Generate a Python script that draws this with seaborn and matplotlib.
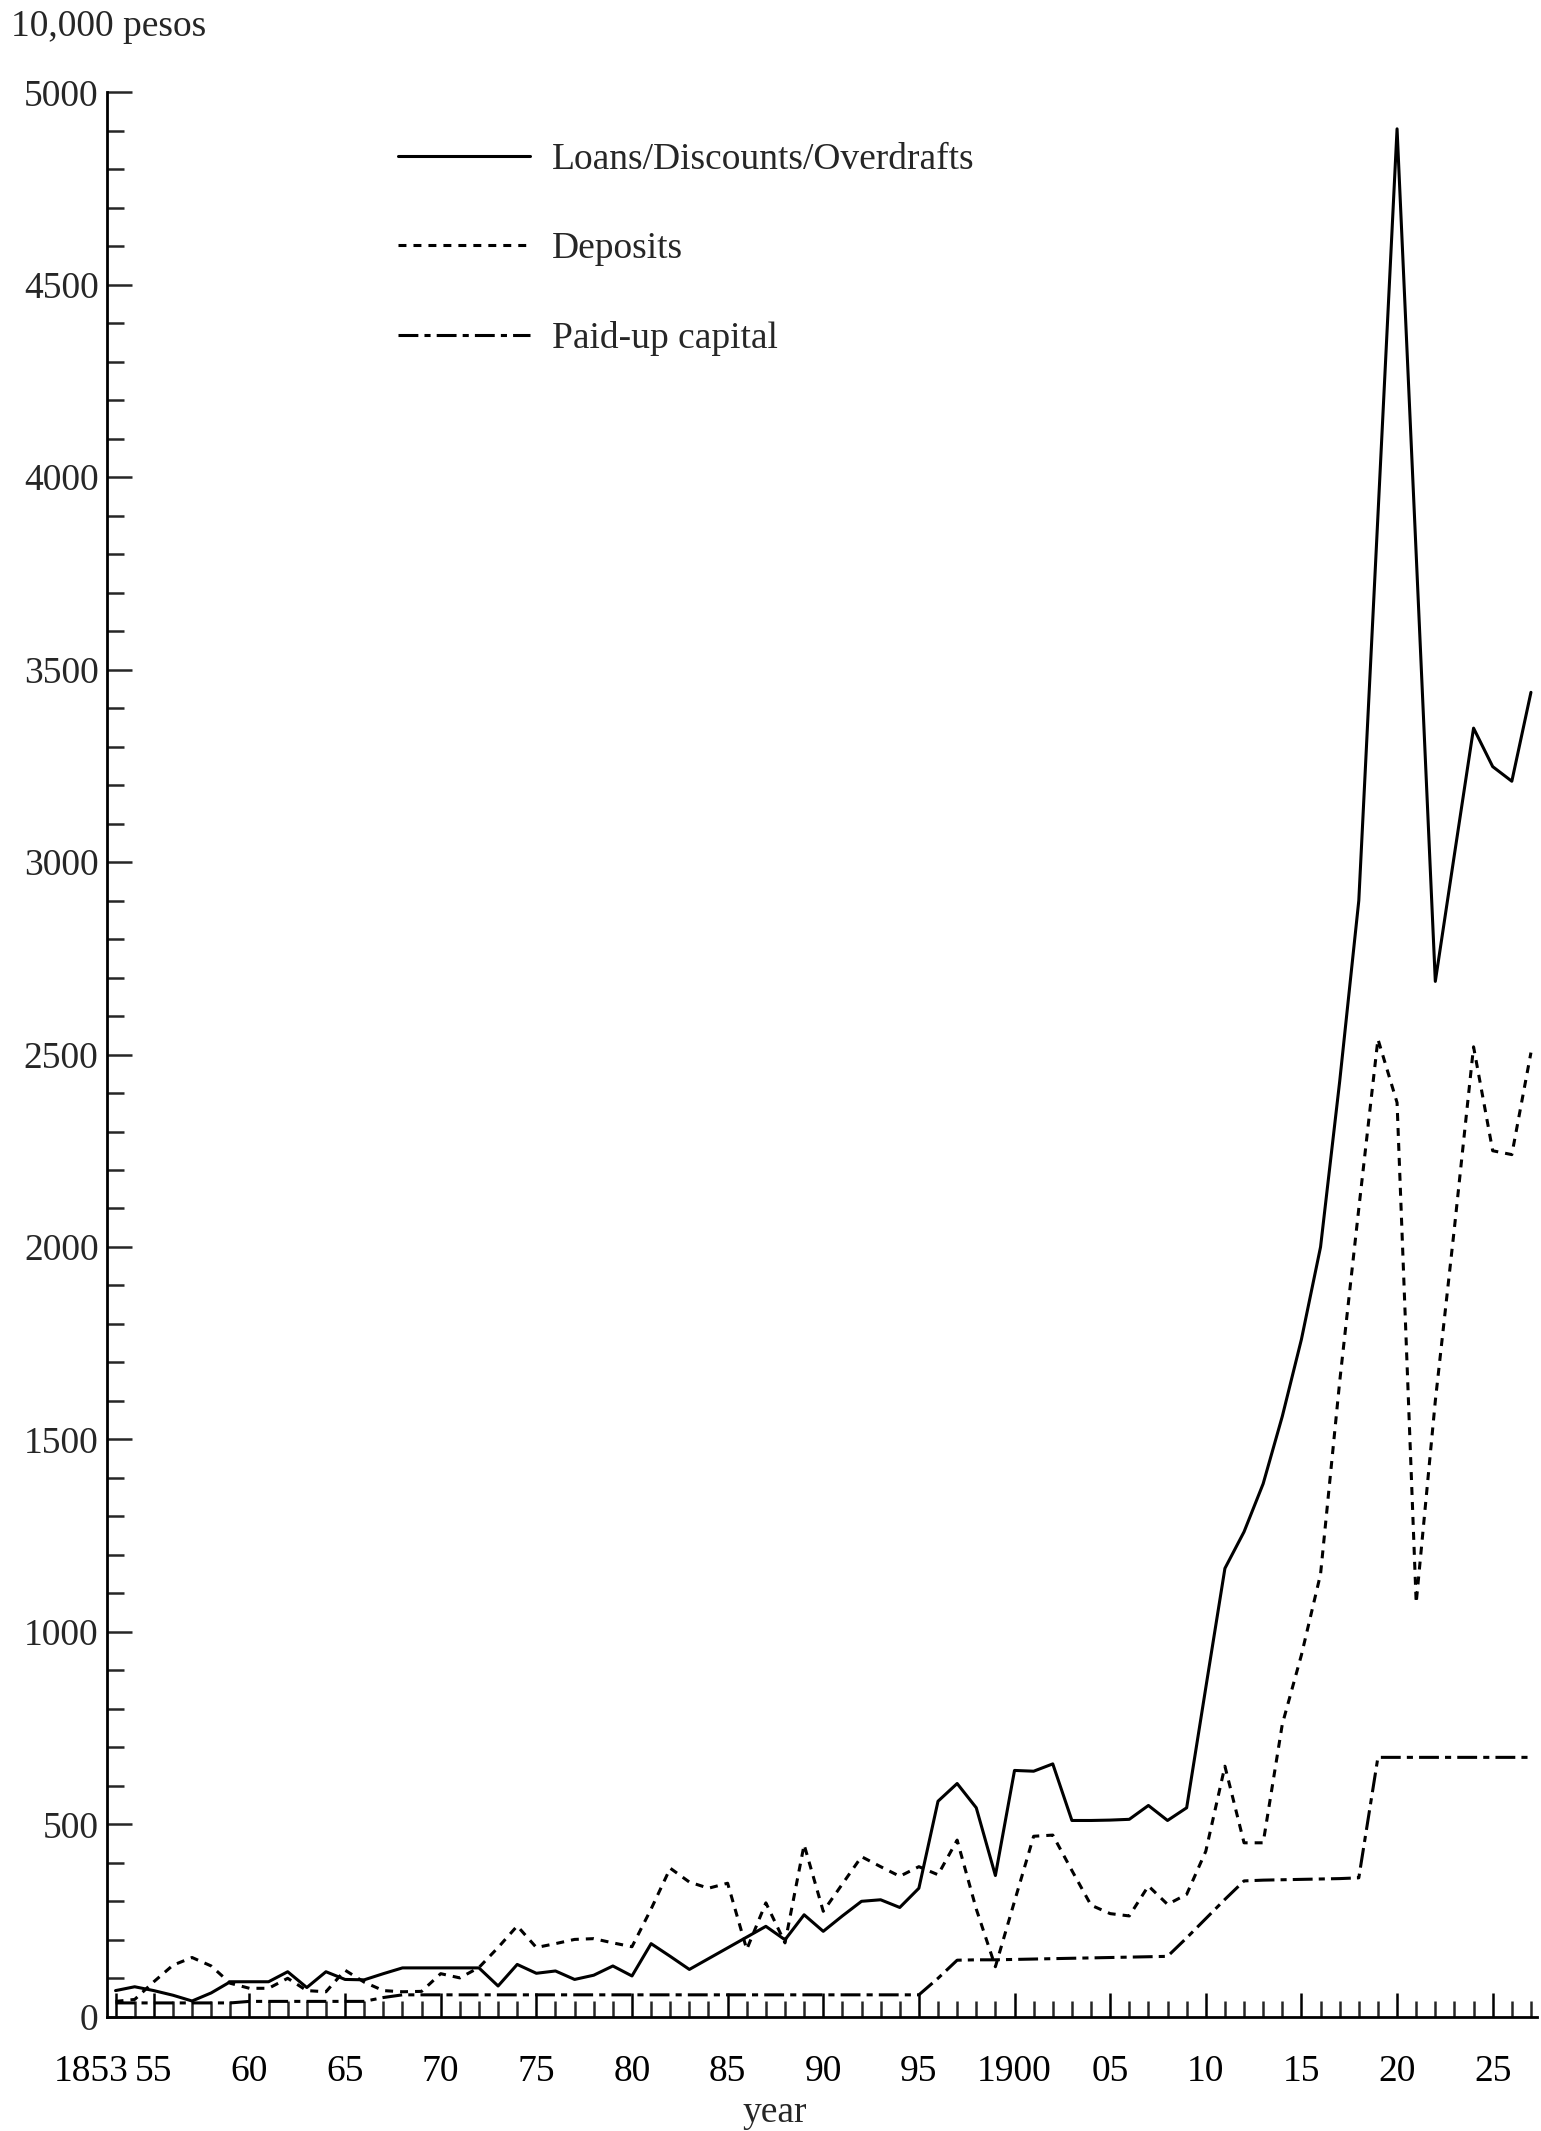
import matplotlib
matplotlib.use("Agg")
import matplotlib.pyplot as plt
from matplotlib.transforms import ScaledTranslation
import seaborn as sns
import pandas as pd

years = list(range(1853, 1928))

loans = [68, 78, 68, 56, 41, 62, 91, 91, 91, 117,
         76, 117, 97, 96, 112, 127, 127, 127, 127, 127,
         80, 136, 113, 119, 97, 108, 132, 106, 190, 157,
         123, 151, 179, 207, 235, 200, 265, 222, 262, 300,
         304, 284, 334, 560, 606, 543, 367, 640, 638, 657,
         510, 510, 511, 513, 549, 510, 543, 855, 1165, 1260,
         1385, 1560, 1760, 2000, 2430, 2900, 3900, 4905, 3800, 2690,
         3020, 3348, 3248, 3210, 3441]

deposits = [40, 45, 91, 134, 154, 132, 87, 74, 74, 100,
            68, 65, 121, 90, 68, 65, 66, 112, 101, 128,
            180, 236, 180, 190, 201, 203, 192, 182, 280, 386,
            350, 334, 347, 175, 296, 192, 447, 274, 345, 416,
            390, 365, 390, 369, 459, 280, 130, 300, 469, 472,
            380, 290, 268, 262, 340, 292, 318, 430, 651, 452,
            452, 760, 940, 1150, 1650, 2100, 2540, 2375, 1075, 1600,
            2050, 2520, 2250, 2240, 2505]

capital = [36, 36, 36, 36, 36, 36, 36, 40, 40, 40,
           40, 40, 40, 40, 50, 57, 57, 57, 57, 57,
           57, 57, 57, 57, 57, 57, 57, 57, 57, 57,
           57, 57, 57, 57, 57, 57, 57, 57, 57, 57,
           57, 57, 57, 100, 147, 148, 148, 149, 150, 151,
           152, 153, 154, 155, 156, 157, 205, 255, 305, 353,
           355, 356, 357, 358, 359, 361, 674, 674, 674, 674,
           674, 674, 674, 674, 674]

series_names = ["Loans/Discounts/Overdrafts", "Deposits", "Paid-up capital"]
major_years = [1853, 1855, 1860, 1865, 1870, 1875, 1880, 1885, 1890, 1895,
               1900, 1905, 1910, 1915, 1920, 1925]
major_labels = ["1853", "55", "60", "65", "70", "75", "80", "85", "90", "95",
                "1900", "05", "10", "15", "20", "25"]

df = pd.DataFrame({
    "year": years * 3,
    "value": loans + deposits + capital,
    "series": [series_names[0]] * len(years) + [series_names[1]] * len(years)
              + [series_names[2]] * len(years),
})

sns.set_theme(style="ticks")
plt.rcParams["font.family"] = ["Liberation Serif", "DejaVu Serif"]

fig = plt.figure(figsize=(15.41, 21.31), dpi=100)
ax = fig.add_axes([0.0694, 0.0536, 0.9278, 0.9031])

dash_map = {series_names[0]: "",
            series_names[1]: (2.6, 2.3),
            series_names[2]: (6.5, 2.0, 2.0, 2.0)}
sns.lineplot(data=df, x="year", y="value", style="series", dashes=dash_map,
             color="black", linewidth=2.2, ax=ax)

ax.set_xlim(1852.55, 1927.3)
ax.set_ylim(0, 5000)
ax.set_xlabel("")
ax.set_ylabel("")

ax.set_xticks(major_years)
ax.set_xticklabels(major_labels)
ax.set_xticks(years, minor=True)
ax.set_yticks(range(0, 5001, 500))
ax.set_yticks(range(0, 5001, 100), minor=True)

ax.tick_params(axis="x", which="major", direction="in", length=17, width=1.8,
               labelsize=27, pad=27, colors="black")
ax.tick_params(axis="x", which="minor", direction="in", length=11.5, width=1.8)
ax.tick_params(axis="y", which="major", direction="in", length=18, width=1.8,
               labelsize=27, pad=6)
ax.tick_params(axis="y", which="minor", direction="in", length=12, width=1.8)

for side in ["top", "right"]:
    ax.spines[side].set_visible(False)
for side in ["left", "bottom"]:
    ax.spines[side].set_linewidth(2)
    ax.spines[side].set_color("black")

# shift the first year label off the spine
first = ax.get_xticklabels()[0]
first.set_transform(first.get_transform() + ScaledTranslation(-0.24, 0, fig.dpi_scale_trans))

lines = ax.get_lines()[:3]
ax.legend(lines, series_names, loc="upper left", bbox_to_anchor=(0.2581, 0.9331),
          bbox_transform=fig.transFigure, frameon=False, fontsize=27,
          handlelength=3.52, handletextpad=0.6, labelspacing=1.46,
          borderpad=0, borderaxespad=0)

fig.text(0.007, 1 - 27 / 2131, "10,000 pesos", fontsize=27, ha="left", va="center")
fig.text(0.503, 18 / 2131, "year", fontsize=27, ha="center", va="center")

fig.savefig("out.png", dpi=100, facecolor="white")
